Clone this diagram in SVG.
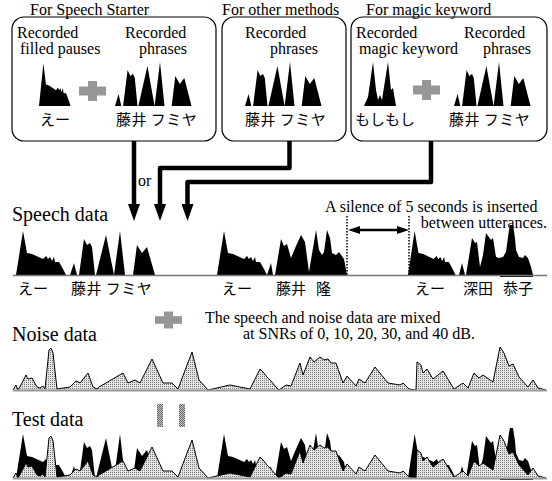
<svg xmlns="http://www.w3.org/2000/svg" xmlns:xlink="http://www.w3.org/1999/xlink" width="552" height="481" viewBox="0 0 552 481">
<style>
.en{font-family:"Liberation Serif","Times New Roman",serif;fill:#000}
.t16{font-size:16px}
.t20{font-size:20px}
.jp{font-family:"Noto Sans CJK JP","Noto Sans CJK SC",sans-serif;font-size:15px;fill:#000}
.box{fill:none;stroke:#000;stroke-width:1.2}
.conn{fill:none;stroke:#000;stroke-width:4.5;stroke-linejoin:round}
.nz{fill:url(#stip);stroke:#000;stroke-width:1;stroke-linejoin:round}
.base{stroke:#7a7a7a;stroke-width:1.5}
.gray{fill:url(#stipDark)}
.dot{stroke:#000;stroke-width:1.5;stroke-dasharray:1.5 1.5}
</style>
<defs>
<pattern id="stip" width="2" height="2" patternUnits="userSpaceOnUse"><rect width="2" height="2" fill="#e4e4e4"/><rect width="1" height="1" fill="#7a7a7a"/></pattern>
<pattern id="stipDark" width="2" height="2" patternUnits="userSpaceOnUse"><rect width="2" height="2" fill="#c8c8c8"/><rect width="1" height="1" fill="#666"/><rect x="1" y="1" width="1" height="1" fill="#666"/></pattern>
<path id="fp" d="M0,0 L7,-44 L11,-22 L16,-21 L27,-16 L30,-19 L32,-16 L34,-18 L36,-14 L38,-18 L39,-13 L43,-13 L47,-6 L50,0 Z"/>
<path id="ph" d="M0,0 L4,-12 L7,0 Z M9,0 L14,-36 L17,-30 L20,-32 L22,-28 L25,0 Z M26,0 L36,-40 L44,0 Z M44,0 L50,-44 L55,0 Z M63,0 L67,-30 L72,-22 L77,-28 L85,0 Z"/>
<g id="plus"><rect x="-13.5" y="-4.5" width="27" height="9"/><rect x="-4.5" y="-10" width="9" height="20"/></g>
<marker id="ah" viewBox="0 0 17 12" refX="0" refY="6" markerWidth="17" markerHeight="12" markerUnits="userSpaceOnUse" orient="auto"><path d="M0,0 L17,6 L0,12 Z" fill="#000"/></marker>
<marker id="sh" viewBox="0 0 12 8" refX="0" refY="4" markerWidth="12" markerHeight="8" markerUnits="userSpaceOnUse" orient="auto-start-reverse"><path d="M0,0 L12,4 L0,8 Z" fill="#000"/></marker>
</defs>
<rect width="552" height="481" fill="#fff"/>

<g id="box-speech-starter">
<rect class="box" x="12" y="17" width="204" height="124" rx="12"/>
<text class="en t16" x="30" y="15">For Speech Starter</text>
<text class="en t16" x="17" y="38">Recorded</text>
<text class="en t16" x="20" y="54">filled pauses</text>
<text class="en t16" x="125" y="38">Recorded</text>
<text class="en t16" x="139" y="54">phrases</text>
<use href="#fp" transform="translate(39,106) scale(0.63,0.98)"/>
<use href="#plus" class="gray" transform="translate(92.5,91)"/>
<use href="#ph" transform="translate(115,106) scale(0.9,1)"/>
<text class="jp" x="40" y="125">えー</text>
<text class="jp" x="116" y="125" letter-spacing="0.5">藤井 フミヤ</text>
</g>

<g id="box-other-methods">
<rect class="box" x="222" y="17" width="124" height="124" rx="12"/>
<text class="en t16" x="222" y="15">For other methods</text>
<text class="en t16" x="245" y="38">Recorded</text>
<text class="en t16" x="270" y="54">phrases</text>
<use href="#ph" transform="translate(245,106) scale(0.9,1)"/>
<text class="jp" x="245" y="125" letter-spacing="0.5">藤井 フミヤ</text>
</g>

<g id="box-magic-keyword">
<rect class="box" x="351" y="17" width="196" height="124" rx="12"/>
<text class="en t16" x="366" y="15">For magic keyword</text>
<text class="en t16" x="356" y="38">Recorded</text>
<text class="en t16" x="359" y="54">magic keyword</text>
<text class="en t16" x="464" y="38">Recorded</text>
<text class="en t16" x="483" y="54">phrases</text>
<path d="M364,106 L368,97 L373,62 L376,90 L378,100 L380,95 L382,100 L384,87 L388,62 L391,90 L393,88 L396,106 Z"/>
<use href="#plus" class="gray" transform="translate(426.5,90)"/>
<use href="#ph" transform="translate(454,106) scale(0.9,1)"/>
<text class="jp" x="355" y="125">もしもし</text>
<text class="jp" x="449" y="125" letter-spacing="0.5">藤井 フミヤ</text>
</g>

<g id="connectors">
<path class="conn" d="M134,141 V204" marker-end="url(#ah)"/>
<path class="conn" d="M289.5,141 V168 H160 V204" marker-end="url(#ah)"/>
<path class="conn" d="M431,141 V182 H187.5 V204" marker-end="url(#ah)"/>
<text class="en t16" x="138" y="186">or</text>
</g>

<g id="speech-data">
<text class="en t20" x="12" y="221">Speech data</text>
<g id="speech-wave">
<use href="#fp" transform="translate(16,275)"/>
<use href="#ph" transform="translate(70,275)"/>
<use href="#fp" transform="translate(217,275)"/>
<path d="M267,275 L271,263 L273,275 Z M275,275 L281,239 L284,246 L287,244 L291,258 L296,246 L301,235 L305,242 L309,272 L312,254 L316,230 L319,250 L322,255 L324,252 L327,230 L330,238 L332,253 L336,255 L339,252 L344,259 L347,275 Z"/>
<use href="#fp" transform="translate(408,275) scale(0.95,1)"/>
<path d="M459,275 L462,263 L465,275 Z M466,275 L472,238 L475,243 L477,242 L480,267 L483,255 L486,233 L491,240 L493,238 L496,257 L499,258 L503,257 L506,252 L509,230 L510,225 L513,225 L515,238 L516,250 L519,257 L523,258 L525,255 L528,258 L531,267 L533,275 Z"/>
<rect x="500" y="274" width="33" height="3"/>
</g>
<line class="base" x1="13" y1="275.5" x2="547" y2="275.5"/>
<line class="dot" x1="347" y1="216" x2="347" y2="276"/>
<line class="dot" x1="409" y1="216" x2="409" y2="276"/>
<path d="M360,230 H397" stroke="#000" stroke-width="2.5" marker-start="url(#sh)" marker-end="url(#sh)"/>
<text class="en t16" x="325" y="212">A silence of 5 seconds is inserted</text>
<text class="en t16" x="547" y="228" text-anchor="end">between utterances.</text>
<text class="jp" x="18" y="294">えー</text>
<text class="jp" x="71" y="294" letter-spacing="0.5">藤井 フミヤ</text>
<text class="jp" x="222" y="294">えー</text>
<text class="jp" x="276" y="294">藤井<tspan x="316">隆</tspan></text>
<text class="jp" x="415" y="294">えー</text>
<text class="jp" x="463" y="294">深田<tspan x="503">恭子</tspan></text>
</g>

<g id="mix-note">
<use href="#plus" class="gray" transform="translate(168.5,320) scale(1,0.85)"/>
<text class="en t16" x="205" y="323">The speech and noise data are mixed</text>
<text class="en t16" x="243" y="339">at SNRs of 0, 10, 20, 30, and 40 dB.</text>
</g>

<g id="noise-data">
<text class="en t20" x="12" y="341">Noise data</text>
<path id="noise-wave" class="nz" d="M13,390 L16,385 L18,390 L22,383 L26,375 L28,379 L32,378 L37,387 L40,388 L43,386 L45,389 L49,350 L51,348 L53,353 L57,389 L70,387 L76,381 L80,383 L88,373 L93,387 L97,389 L99,387 L123,373 L128,383 L135,380 L140,383 L152,359 L163,383 L172,383 L178,389 L192,352 L199,380 L208,390 L230,385 L250,389 L260,369 L263,372 L267,377 L271,381 L276,387 L279,390 L286,385 L291,386 L300,363 L303,375 L310,357 L314,362 L320,357 L324,360 L328,359 L331,363 L336,363 L343,383 L347,376 L356,386 L359,379 L365,383 L375,367 L388,383 L394,384 L400,385 L403,383 L409,389 L416,390 L417,362 L421,365 L423,373 L427,369 L433,379 L443,371 L454,389 L463,383 L468,388 L474,373 L479,378 L483,375 L493,382 L500,347 L504,353 L509,366 L513,364 L519,377 L528,387 L533,380 L538,388 L546,390"/>
<line x1="13" y1="390.5" x2="547" y2="390.5" stroke="#999" stroke-width="2"/>
</g>

<g id="equals">
<rect class="gray" x="157" y="404" width="6" height="23"/>
<rect class="gray" x="179" y="404" width="6" height="23"/>
</g>

<g id="test-data">
<text class="en t20" x="12" y="426">Test data</text>
<use href="#speech-wave" transform="translate(0,203)"/>
<use href="#noise-wave" transform="translate(0,88)"/>
<line x1="13" y1="478.5" x2="547" y2="478.5" stroke="#999" stroke-width="2"/>
</g>
</svg>
